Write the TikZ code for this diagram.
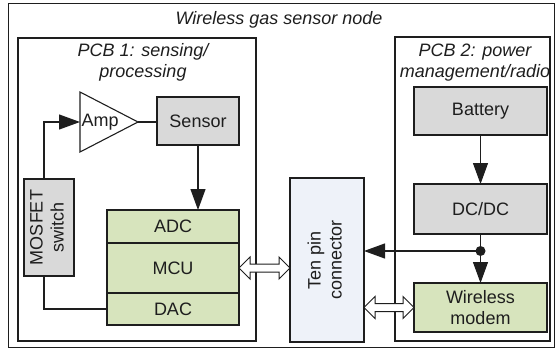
\documentclass[tikz,border=0pt]{standalone}
\usepackage{fontspec}
\setmainfont{Liberation Sans}
\usetikzlibrary{shapes.geometric, arrows.meta, positioning, calc}

\definecolor{ink}{HTML}{1E1E1E}
\definecolor{boxgray}{HTML}{D9D9D9}
\definecolor{mcugreen}{HTML}{D7E4BD}
\definecolor{connblue}{HTML}{EEF2F9}

\tikzset{
  grbox/.style={draw, fill=boxgray, inner sep=0pt, outer sep=0pt},
  gnbox/.style={draw, fill=mcugreen, inner sep=0pt, outer sep=0pt,
    minimum width=132pt},
  amp/.style={draw, isosceles triangle, isosceles triangle stretches,
    minimum width=60pt, minimum height=58pt, inner sep=0pt, outer sep=0pt},
  arr/.style={-{Triangle[length=21pt,width=15pt]}},
}

% vertical two-line text
\newcommand{\vtext}[1]{\rotatebox{90}{\begin{tabular}{@{}c@{}}#1\end{tabular}}}

% hollow double-headed arrow between two tips on one line
\newcommand{\fatarrow}[2]{%
  \draw[fill=white, line width=1pt] let \p1=(#1), \p2=(#2) in
    (\x1,\y1) -- (\x1+11,\y1+11) -- (\x1+11,\y1+4) -- (\x2-11,\y1+4)
    -- (\x2-11,\y1+11) -- (\x2,\y1) -- (\x2-11,\y1-11) -- (\x2-11,\y1-4)
    -- (\x1+11,\y1-4) -- (\x1+11,\y1-11) -- cycle;}

\begin{document}
\fontsize{18}{21}\selectfont
\begin{tikzpicture}[x=1pt, y=1pt, line width=1.1pt, color=ink]
  \useasboundingbox (0,0) rectangle (559,349);

  % frames
  \draw[line width=1pt] (8,2) rectangle (554,345);
  \draw (18,8) rectangle (256,311);
  \draw (395,8) rectangle (550,312);

  \node[font=\itshape] (title) at (279,329) {Wireless gas sensor node};
  \node[font=\itshape, align=center] (pcb1) at (143,286.5) {PCB 1: sensing/\\processing};
  \node[font=\itshape, align=center] (pcb2) at (475,286.5) {PCB 2: power\\management/radio};

  % PCB 1
  \node[amp, anchor=lower side] (amp) at (80,227) {Amp};
  \node[grbox, minimum width=82pt, minimum height=48pt] (sensor) at (198,228) {Sensor};
  \node[gnbox, minimum height=33pt] (adc) at (173,122.5) {ADC};
  \node[gnbox, minimum height=50pt, below=0pt of adc] (mcu) {MCU};
  \node[gnbox, minimum height=32pt, below=0pt of mcu] (dac) {DAC};
  \node[grbox, minimum width=50pt, minimum height=97pt] (mos) at (49,121.5) {\vtext{MOSFET\\switch}};

  % connector
  \node[draw, fill=connblue, inner sep=0pt, outer sep=0pt,
        minimum width=74pt, minimum height=164pt] (conn) at (327,89) {\vtext{Ten pin\\connector}};

  % PCB 2
  \node[grbox, minimum width=133pt, minimum height=48pt] (battery) at (480.5,238) {Battery};
  \node[grbox, minimum width=133pt, minimum height=50pt] (dcdc) at (480.5,140) {DC/DC};
  \node[gnbox, minimum width=133pt, minimum height=49pt, align=center] (modem) at (480.5,41.5) {Wireless\\modem};
  \coordinate (split) at ($(dcdc.south)+(0,-17)$);

  % wires
  \draw[arr] ([xshift=-5pt]mos.north) |- (amp.lower side);
  \draw ([xshift=-5pt]mos.south) |- (dac.west);
  \draw (amp.apex) -- (amp.apex -| sensor.west);
  \draw[arr] (sensor.south) -- (sensor.south |- adc.north);
  \draw[arr] (battery) -- (dcdc);
  \draw (dcdc.south) -- (split);
  \draw[arr] (split) -- (modem.north);
  \draw[arr] (split) -- (split -| conn.east);
  \fill (split) circle (5pt);

  \fatarrow{mcu.east}{conn.west |- mcu.east}
  \fatarrow{conn.east |- modem.west}{modem.west}
\end{tikzpicture}
\end{document}
